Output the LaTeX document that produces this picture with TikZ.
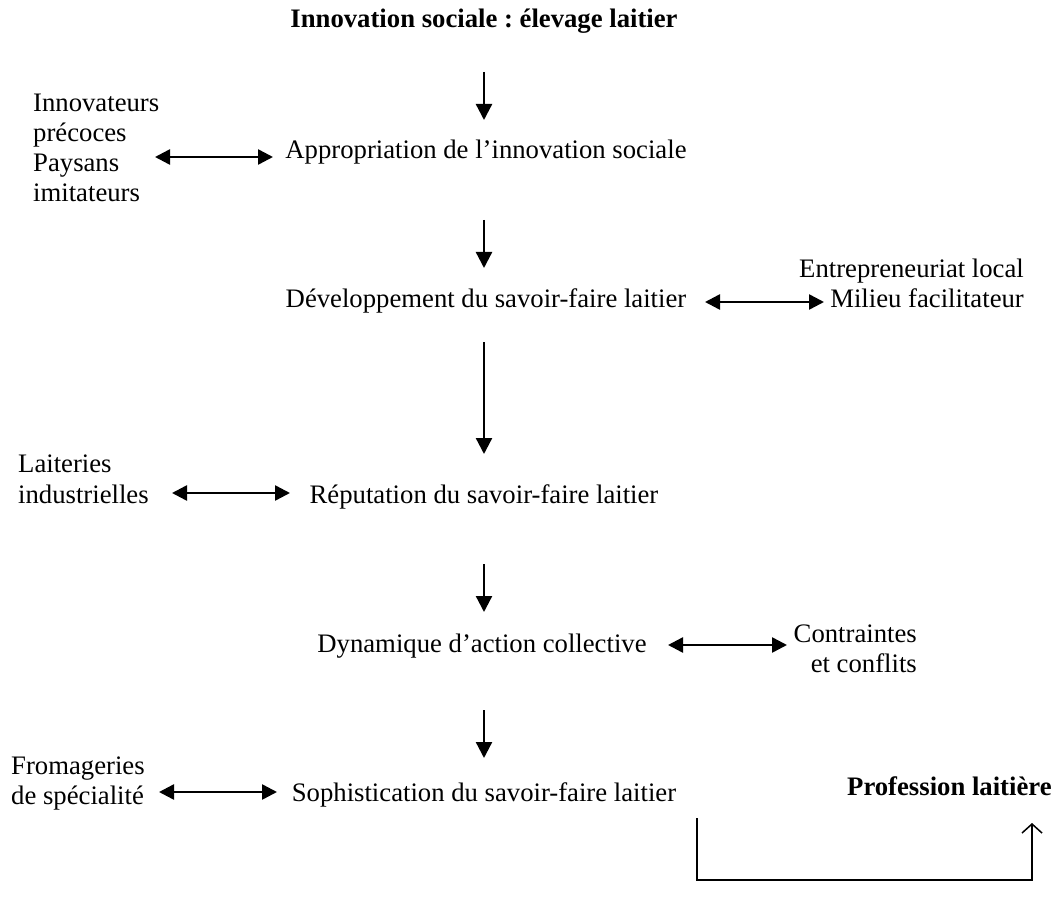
\documentclass[tikz,border=0pt]{standalone}
\usepackage{fontspec}
\setmainfont{Liberation Serif}
\usetikzlibrary{arrows.meta}
\frenchspacing
\begin{document}
\begin{tikzpicture}[x=1pt,y=-1pt,
  txt/.style={inner sep=0pt,anchor=base,font=\fontsize{26.7}{30.5}\selectfont},
  lft/.style={txt,anchor=base west},
  rgt/.style={txt,anchor=base east},
  bold/.style={font=\fontsize{26.7}{30.5}\selectfont\bfseries},
  down/.style={line width=2.3pt,-{Triangle[length=16pt,width=16pt]}},
  both/.style={line width=2.5pt,{Triangle[length=15pt,width=15pt]}-{Triangle[length=15pt,width=15pt]}},
  loopline/.style={line width=1.5pt,-{Straight Barb[length=9pt,width=20pt]}}]
\useasboundingbox (0,0) rectangle (1057,901);
% main chain
\node[txt,bold] (title) at (484,28) {Innovation sociale : élevage laitier};
\node[txt] (appr) at (486,159) {Appropriation de l’innovation sociale};
\node[txt] (dev) at (486,307) {Développement du savoir-faire laitier};
\node[txt] (rep) at (484,503) {Réputation du savoir-faire laitier};
\node[txt] (dyn) at (482,652) {Dynamique d’action collective};
\node[txt] (soph) at (484,801) {Sophistication du savoir-faire laitier};
% side texts
\node[lft] (innov1) at (33,112) {Innovateurs};
\node[lft] (innov2) at (33,142) {précoces};
\node[lft] (innov3) at (33,172) {Paysans};
\node[lft] (innov4) at (33,202) {imitateurs};
\node[rgt] (entr1) at (1024,277) {Entrepreneuriat local};
\node[rgt] (entr2) at (1024,307) {Milieu facilitateur};
\node[lft] (lait1) at (18,472) {Laiteries};
\node[lft] (lait2) at (18,503) {industrielles};
\node[rgt] (contr1) at (917,642) {Contraintes};
\node[rgt] (contr2) at (917,672) {et conflits};
\node[lft] (from1) at (11,774) {Fromageries};
\node[lft] (from2) at (11,804) {de spécialité};
\node[txt,bold,anchor=base west] (prof) at (847,795) {Profession laitière};
% vertical arrows
\coordinate (v1a) at (484,72);  \coordinate (v1b) at (484,120);
\coordinate (v2a) at (484,220); \coordinate (v2b) at (484,268);
\coordinate (v3a) at (484,342); \coordinate (v3b) at (484,454);
\coordinate (v4a) at (484,564); \coordinate (v4b) at (484,612);
\coordinate (v5a) at (484,710); \coordinate (v5b) at (484,758);
\draw[down] (v1a) -- (v1b);
\draw[down] (v2a) -- (v2b);
\draw[down] (v3a) -- (v3b);
\draw[down] (v4a) -- (v4b);
\draw[down] (v5a) -- (v5b);
% double arrows
\coordinate (h1a) at (155,157); \coordinate (h1b) at (273,157);
\coordinate (h2a) at (705,302); \coordinate (h2b) at (824,302);
\coordinate (h3a) at (172,493); \coordinate (h3b) at (290,493);
\coordinate (h4a) at (668,645); \coordinate (h4b) at (787,645);
\coordinate (h5a) at (159,792); \coordinate (h5b) at (277,792);
\draw[both] (h1a) -- (h1b);
\draw[both] (h2a) -- (h2b);
\draw[both] (h3a) -- (h3b);
\draw[both] (h4a) -- (h4b);
\draw[both] (h5a) -- (h5b);
% feedback loop
\coordinate (la) at (697,818);
\coordinate (lb) at (697,880);
\coordinate (lc) at (1032,880);
\coordinate (ld) at (1032,823);
\draw[loopline] (la) -- (lb) -- (lc) -- (ld);
\end{tikzpicture}
\end{document}
